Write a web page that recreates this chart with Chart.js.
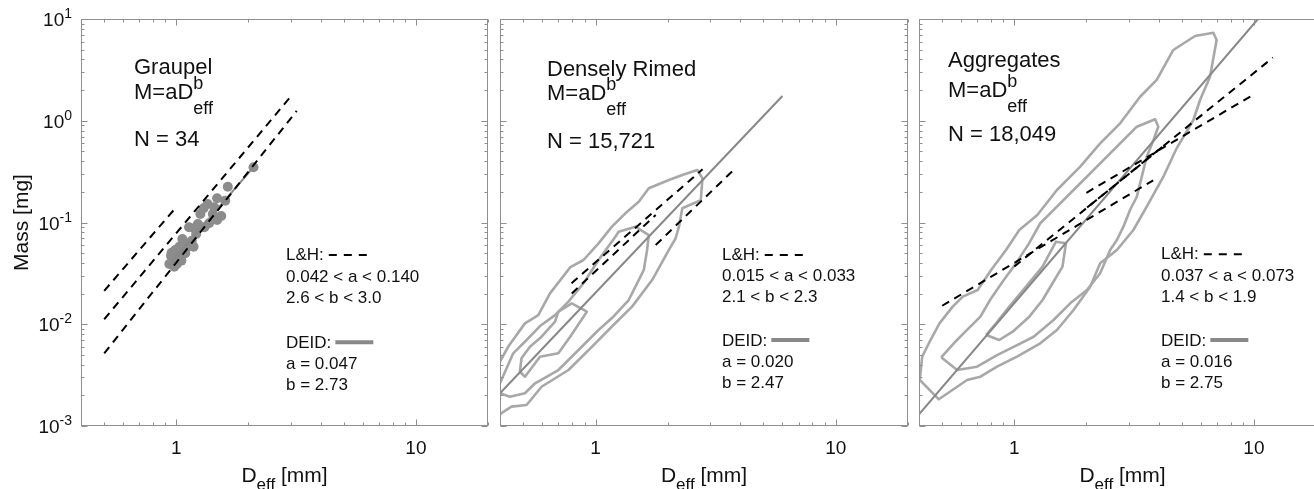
<!DOCTYPE html>
<html><head><meta charset="utf-8">
<script src="https://cdn.jsdelivr.net/npm/chart.js@4.4.1/dist/chart.umd.min.js"></script>
<style>
html,body{margin:0;padding:0;background:#fff;overflow:hidden;width:1314px;height:489px;}
canvas{position:absolute;top:0;}
</style></head><body>
<canvas id="c1" width="495" height="489" style="left:0px"></canvas>
<canvas id="c2" width="415" height="489" style="left:495px"></canvas>
<canvas id="c3" width="420" height="489" style="left:912px"></canvas>
<script>
// ---------- axes ----------
const xLimits = [0.4, 20];
const yLimits = [0.001, 10];
const xTickValues = [1, 10];
const xTickLabels = ['1', '10'];
const yTickValues = [0.001, 0.01, 0.1, 1, 10];
const yTickExponents = ['-3', '-2', '-1', '0', '1'];

// ---------- Graupel ----------
const graupelD = [2.10,1.64,1.48,1.60,1.35,1.42,1.54,1.48,1.23,1.13,1.31,1.37,1.21,1.16,1.06,1.03,1.09,0.99,1.01,0.95,0.965,1.006,0.935,1.05,1.12,1.26,1.30,1.18,0.98,1.04,1.44,0.956,1.19,1.07];
const graupelM = [0.349,0.225,0.173,0.164,0.152,0.121,0.116,0.106,0.0967,0.0897,0.0897,0.0982,0.0771,0.0663,0.0689,0.0578,0.0498,0.0537,0.0462,0.0472,0.0422,0.0391,0.0391,0.0422,0.0578,0.121,0.138,0.0578,0.0368,0.0498,0.141,0.0505,0.0878,0.0625];
const graupelLH1 = [[0.5,0.0213],[1.0,0.142]];
const graupelLH2 = [[0.5,0.0112],[2.99,1.71]];
const graupelLH3 = [[0.5,0.00518],[3.18,1.25]];
const graupelDEID = [[0.93,0.038],[2.1,0.35]];

// ---------- Densely rimed ----------
const rimedLH1 = [[0.794,0.0253],[2.79,0.333]];
const rimedLH2 = [[0.796,0.0201],[1.78,0.1185]];
const rimedLH3 = [[1.78,0.0601],[3.78,0.333]];
const rimedDEID = [[0.4,0.0021],[6.0,1.75]];
const rimedOuter = [[0.4,0.0043],[0.4325,0.0060],[0.508,0.0102],[0.5775,0.0123],[0.646,0.0201],[0.786,0.0365],[0.891,0.0428],[1.029,0.0624],[1.17,0.091],[1.331,0.123],[1.513,0.160],[1.666,0.217],[2.02,0.262],[2.297,0.293],[2.653,0.328],[2.786,0.272],[2.743,0.166],[2.297,0.138],[2.225,0.091],[2.155,0.070],[2.02,0.0537],[1.72,0.0272],[1.419,0.0149],[1.17,0.0095],[0.965,0.0060],[0.771,0.00355],[0.596,0.00243],[0.516,0.00161],[0.4465,0.00155],[0.4,0.00131]];
const rimedMiddle = [[0.4,0.00263],[0.454,0.00518],[0.516,0.0070],[0.587,0.0096],[0.678,0.0123],[0.771,0.0167],[0.891,0.0253],[1.029,0.0428],[1.209,0.0725],[1.248,0.0812],[1.466,0.091],[1.666,0.0753],[1.639,0.0537],[1.588,0.0341],[1.466,0.0234],[1.374,0.0173],[1.17,0.0115],[1.029,0.00878],[0.849,0.00558],[0.70,0.00355],[0.56,0.00263],[0.508,0.0021],[0.4395,0.00194],[0.4,0.0021]];
const rimedInner = [[0.4916,0.0033],[0.508,0.00305],[0.587,0.0048],[0.70,0.00518],[0.784,0.00754],[0.92,0.01328],[0.796,0.01606],[0.70,0.01328],[0.678,0.0106],[0.596,0.00754],[0.533,0.00602],[0.4916,0.00463],[0.484,0.00342],[0.4916,0.0033]];

// ---------- Aggregates ----------
const aggLH1 = [[0.5,0.0152],[3.8,0.26]];
const aggLH2 = [[1.0,0.037],[4.33,0.6]];
const aggLH3 = [[1.91,0.127],[12,4.17]];
const aggLH4 = [[2.0,0.196],[9.9,1.79]];
const aggDEID = [[0.4,0.0013],[10.4,10]];
const aggOuter = [[0.403,0.00283],[0.4125,0.0048],[0.4467,0.0070],[0.487,0.0102],[0.553,0.0149],[0.609,0.0187],[0.703,0.0217],[0.80,0.0341],[0.923,0.0537],[1.049,0.0844],[1.247,0.1185],[1.506,0.2086],[1.884,0.354],[2.282,0.60],[2.765,0.944],[3.35,1.72],[3.93,2.52],[4.61,4.96],[5.68,6.81],[6.77,7.33],[6.99,6.22],[6.56,2.71],[5.96,1.60],[5.59,1.017],[4.76,0.536],[4.19,0.282],[3.57,0.143],[3.14,0.0844],[2.68,0.0537],[2.282,0.0397],[2.074,0.0234],[1.767,0.0138],[1.506,0.00878],[1.283,0.0065],[1.026,0.0048],[0.847,0.00383],[0.722,0.00305],[0.635,0.00283],[0.484,0.00183],[0.403,0.00283]];
const aggMiddle = [[0.495,0.00473],[0.559,0.0065],[0.635,0.0088],[0.722,0.0119],[0.794,0.0175],[0.902,0.027],[1.026,0.041],[1.15,0.062],[1.283,0.0983],[1.506,0.143],[1.767,0.2086],[2.074,0.3045],[2.434,0.4433],[2.765,0.60],[3.245,0.874],[3.87,1.033],[3.99,0.874],[3.81,0.647],[3.57,0.4433],[3.35,0.2427],[3.245,0.179],[3.04,0.1327],[2.854,0.091],[2.68,0.0673],[2.512,0.0537],[2.282,0.0317],[2.009,0.0217],[1.711,0.01606],[1.458,0.0110],[1.204,0.00754],[0.993,0.0060],[0.847,0.00498],[0.699,0.00383],[0.577,0.00355],[0.495,0.00473]];
const aggInner = [[0.762,0.00784],[0.866,0.0070],[0.984,0.00845],[1.155,0.01187],[1.312,0.0173],[1.444,0.0253],[1.589,0.0368],[1.642,0.0624],[1.492,0.0648],[1.312,0.0368],[1.119,0.0234],[0.953,0.0149],[0.839,0.0102],[0.762,0.00784]];

// ---------- styles ----------
const FONT = '"Liberation Sans", Arial, Helvetica, sans-serif';
const AXIS_COLOR = '#8f8f8f';
const TEXT_COLOR = '#111111';
const CONTOUR_COLOR = '#a8a8a8';
const DEID_COLOR = '#888888';
const DOT_COLOR = '#8c8c8c';

const pts = arr => arr.map(p => ({x: p[0], y: p[1]}));
const dashed = arr => ({data: pts(arr), showLine: true, borderColor: '#000', borderWidth: 2, borderDash: [8, 6], pointRadius: 0, fill: false});
const deid = arr => ({data: pts(arr), showLine: true, borderColor: DEID_COLOR, borderWidth: 2, pointRadius: 0, fill: false});
const contour = arr => ({data: pts(arr), showLine: true, borderColor: CONTOUR_COLOR, borderWidth: 2.6, pointRadius: 0, fill: false, borderJoinStyle: 'round'});

function drawParts(ctx, x, y, parts) {
  let cx = x;
  for (const p of parts) {
    ctx.font = p.size + 'px ' + FONT;
    ctx.fillText(p.t, cx, y + (p.dy || 0));
    if (!p.keep) cx += ctx.measureText(p.t).width;
  }
  return cx;
}
function widthParts(ctx, parts) {
  let w = 0;
  for (const p of parts) { ctx.font = p.size + 'px ' + FONT; if (!p.keep) w += ctx.measureText(p.t).width; }
  return w;
}

const panelPlugin = {
  id: 'panel',
  afterDatasetsDraw(chart, args, o) {
    const {ctx, chartArea: a, scales: {x, y}} = chart;
    ctx.save();
    const L = Math.round(a.left) + 0.5, R = Math.round(a.right) - 0.5;
    const T = Math.round(a.top) + 0.5, B = Math.round(a.bottom) - 0.5;
    ctx.strokeStyle = AXIS_COLOR; ctx.lineWidth = 1;
    ctx.strokeRect(L, T, R - L, B - T);
    ctx.beginPath();
    for (let e = -3; e <= 1; e++) {
      for (let m = 1; m <= 9; m++) {
        const v = m * Math.pow(10, e);
        const len = m === 1 ? 6 : 3;
        if (v >= xLimits[0] * 0.999 && v <= xLimits[1] * 1.001) {
          const px = Math.round(x.getPixelForValue(v)) + 0.5;
          ctx.moveTo(px, B); ctx.lineTo(px, B - len);
          ctx.moveTo(px, T); ctx.lineTo(px, T + len);
        }
        if (v >= yLimits[0] * 0.999 && v <= yLimits[1] * 1.001) {
          const py = Math.round(y.getPixelForValue(v)) + 0.5;
          ctx.moveTo(L, py); ctx.lineTo(L + len, py);
          ctx.moveTo(R, py); ctx.lineTo(R - len, py);
        }
      }
    }
    ctx.stroke();

    ctx.fillStyle = TEXT_COLOR;
    ctx.textBaseline = 'alphabetic';
    // x tick labels
    ctx.textAlign = 'center';
    ctx.font = '19px ' + FONT;
    xTickValues.forEach((v, i) => ctx.fillText(xTickLabels[i], x.getPixelForValue(v), 454));
    ctx.textAlign = 'left';
    // y tick labels
    if (o.yLabels) {
      yTickValues.forEach((v, i) => {
        const py = y.getPixelForValue(v);
        ctx.font = '19px ' + FONT; const wb = ctx.measureText('10').width;
        ctx.font = '14px ' + FONT; const ws = ctx.measureText(yTickExponents[i]).width;
        const x0 = a.left - 9 - wb - ws;
        drawParts(ctx, x0, py + 7, [{t: '10', size: 19}, {t: yTickExponents[i], size: 14, dy: -8}]);
      });
      ctx.save();
      ctx.translate(28, (a.top + a.bottom) / 2);
      ctx.rotate(-Math.PI / 2);
      ctx.textAlign = 'center';
      ctx.font = '21px ' + FONT;
      ctx.fillText('Mass [mg]', 0, 0);
      ctx.restore();
    }
    // x title
    const xt = [{t: 'D', size: 21}, {t: 'eff', size: 17, dy: 8}, {t: ' [mm]', size: 21}];
    const wx = widthParts(ctx, xt);
    drawParts(ctx, (a.left + a.right) / 2 - wx / 2, 482, xt);

    // annotation block
    const tx = a.left + o.titleDx;
    ctx.font = '22px ' + FONT;
    ctx.fillText(o.title, tx, o.titleY[0]);
    drawParts(ctx, tx, o.titleY[1], [{t: 'M=aD', size: 22}, {t: 'b', size: 18, dy: -10, keep: true}, {t: 'eff', size: 18, dy: 15}]);
    ctx.font = '22px ' + FONT;
    ctx.fillText(o.n, tx, o.titleY[2]);

    // legend block
    const lx = a.left + o.legDx;
    ctx.font = '17px ' + FONT;
    ctx.fillText('L&H:', lx, o.legY[0]);
    const w1 = ctx.measureText('L&H:').width;
    ctx.fillText(o.lhText[0], lx, o.legY[1]);
    ctx.fillText(o.lhText[1], lx, o.legY[2]);
    ctx.fillText('DEID:', lx, o.legY[3]);
    const w2 = ctx.measureText('DEID:').width;
    ctx.fillText(o.deidText[0], lx, o.legY[4]);
    ctx.fillText(o.deidText[1], lx, o.legY[5]);
    ctx.strokeStyle = '#000'; ctx.lineWidth = 2; ctx.setLineDash([8, 7]);
    ctx.beginPath(); ctx.moveTo(lx + w1 + 5, o.legY[0] - 5); ctx.lineTo(lx + w1 + 43, o.legY[0] - 5); ctx.stroke();
    ctx.setLineDash([]);
    ctx.strokeStyle = DEID_COLOR; ctx.lineWidth = 4;
    ctx.beginPath(); ctx.moveTo(lx + w2 + 4, o.legY[3] - 6); ctx.lineTo(lx + w2 + 42, o.legY[3] - 6); ctx.stroke();
    ctx.restore();
  }
};

function makeChart(id, datasets, padding, panel) {
  return new Chart(document.getElementById(id), {
    type: 'scatter',
    data: {datasets},
    options: {
      responsive: false, animation: false, events: [],
      layout: {padding},
      plugins: {legend: {display: false}, tooltip: {enabled: false}, panel},
      scales: {
        x: {type: 'logarithmic', min: xLimits[0], max: xLimits[1], display: false, ticks: {autoSkip: false}},
        y: {type: 'logarithmic', min: yLimits[0], max: yLimits[1], display: false, ticks: {autoSkip: false}}
      }
    },
    plugins: [panelPlugin]
  });
}

makeChart('c1', [
  dashed(graupelLH1), dashed(graupelLH2), dashed(graupelLH3),
  deid(graupelDEID),
  {data: graupelD.map((d, i) => ({x: d, y: graupelM[i]})), showLine: false, pointRadius: 5, pointBackgroundColor: DOT_COLOR, pointBorderWidth: 0}
], {left: 81, right: 7, top: 19, bottom: 63}, {
  yLabels: true, title: 'Graupel', n: 'N = 34', titleDx: 53, titleY: [74, 99, 146],
  legDx: 205, legY: [260, 281.7, 303.3, 348.3, 369.3, 390],
  lhText: ['0.042 < a < 0.140', '2.6 < b < 3.0'], deidText: ['a = 0.047', 'b = 2.73']
});

makeChart('c2', [
  dashed(rimedLH1), dashed(rimedLH2), dashed(rimedLH3),
  deid(rimedDEID),
  contour(rimedInner), contour(rimedMiddle), contour(rimedOuter)
], {left: 5, right: 2, top: 19, bottom: 63}, {
  yLabels: false, title: 'Densely Rimed', n: 'N = 15,721', titleDx: 47, titleY: [76, 100, 148],
  legDx: 222, legY: [260, 280.7, 302.3, 346, 367.3, 388.3],
  lhText: ['0.015 < a < 0.033', '2.1 < b < 2.3'], deidText: ['a = 0.020', 'b = 2.47']
});

makeChart('c3', [
  dashed(aggLH1), dashed(aggLH2), {...dashed(aggLH3), borderDashOffset: 7}, dashed(aggLH4),
  deid(aggDEID),
  contour(aggInner), contour(aggMiddle), contour(aggOuter)
], {left: 7, right: 6, top: 19, bottom: 63}, {
  yLabels: false, title: 'Aggregates', n: 'N = 18,049', titleDx: 29, titleY: [67, 97, 141],
  legDx: 242, legY: [259.3, 280.7, 301.7, 346, 367.3, 388.3],
  lhText: ['0.037 < a < 0.073', '1.4 < b < 1.9'], deidText: ['a = 0.016', 'b = 2.75']
});
</script>
</body></html>
